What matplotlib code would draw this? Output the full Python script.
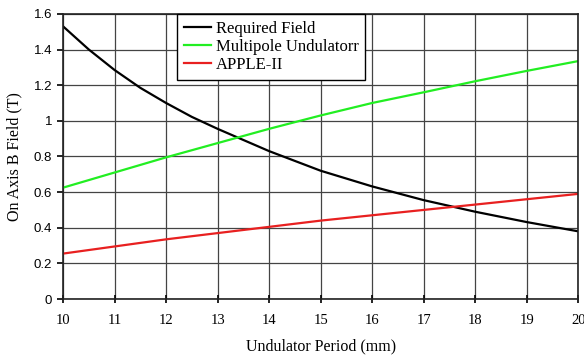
import numpy as np
import matplotlib.pyplot as plt

period = [10, 10.5, 11, 11.5, 12, 12.5, 13, 14, 15, 16, 17, 18, 19, 20]
required_field = [1.53, 1.40, 1.285, 1.185, 1.10, 1.022, 0.955, 0.83, 0.72, 0.632, 0.555, 0.49, 0.432, 0.38]
period_b = [10, 11, 12, 13, 14, 15, 16, 17, 18, 19, 20]
multipole = [0.625, 0.71, 0.795, 0.875, 0.955, 1.03, 1.10, 1.16, 1.222, 1.28, 1.335]
apple2 = [0.255, 0.295, 0.335, 0.37, 0.405, 0.44, 0.47, 0.50, 0.53, 0.56, 0.59]

serif = 'Liberation Serif'
sans = 'Liberation Sans'

fig = plt.figure(figsize=(5.84, 3.56), dpi=100)
ax = fig.add_axes([0.108, 0.160, 0.882, 0.801])

ax.plot(period, required_field, color='black', lw=1.6, label='Required Field')
ax.plot(period_b, multipole, color='#22ee22', lw=1.6, label='Multipole Undulatorr')
ax.plot(period_b, apple2, color='#e82020', lw=1.6, label='APPLE-II')

ax.set_xlim(10, 20)
ax.set_ylim(0, 1.6)
ax.set_xticks(range(10, 21))
ax.set_yticks(np.arange(0, 1.61, 0.2))
ax.set_yticklabels(['0', '0.2', '0.4', '0.6', '0.8', '1', '1.2', '1.4', '1.6'],
                   family=sans, fontsize=9.5)
ax.set_xticklabels([str(v) for v in range(10, 21)], family=serif, fontsize=10.5)
ax.tick_params(axis='x', direction='inout', length=6, width=1.2, pad=8)
ax.tick_params(axis='y', direction='out', length=4, width=1.2, pad=4)
ax.grid(True, color='#444444', lw=0.9)
for s in ax.spines.values():
    s.set_linewidth(1.2)
    s.set_color('#222222')

ax.set_xlabel('Undulator Period (mm)', family=serif, fontsize=11.5, labelpad=8)
ax.set_ylabel('On Axis B Field (T)', family=serif, fontsize=11.5, labelpad=8)

leg = ax.legend(loc='upper left', bbox_to_anchor=(0.222, 0.998), prop={'family': serif, 'size': 12},
                frameon=True, fancybox=False, handlelength=1.6, handletextpad=0.3,
                borderpad=0.4, labelspacing=0.12, borderaxespad=0)
leg.get_frame().set_edgecolor('black')
leg.get_frame().set_linewidth(1.0)
leg.get_frame().set_alpha(1)

fig.savefig('out.png', dpi=100)
